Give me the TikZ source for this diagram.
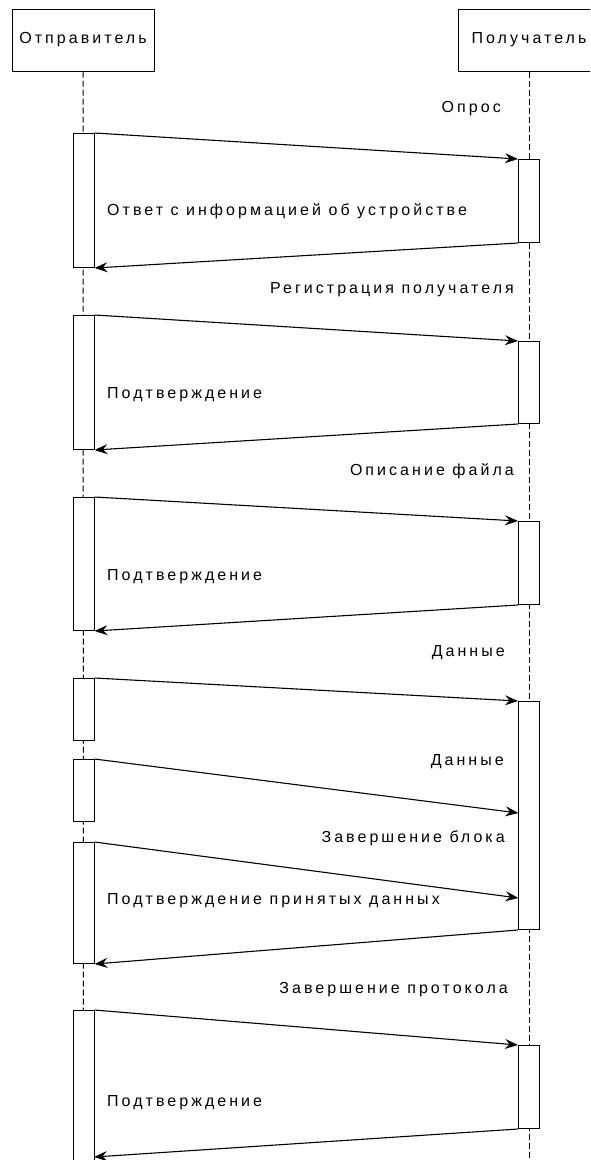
\documentclass[tikz,border=0pt]{standalone}
\usepackage{fontspec}
\setmainfont{Liberation Sans}[LetterSpace=19]
\usetikzlibrary{arrows.meta}

\begin{document}
\begin{tikzpicture}[x=1pt, y=-1pt,
  txt/.style={font=\fontsize{16}{18}\selectfont},
  head/.style={draw, line width=1pt, fill=white, minimum width=142pt, minimum height=62pt, inner sep=0pt, txt},
  act/.style={draw, line width=1pt, fill=white, minimum width=21pt, inner sep=0pt, anchor=north},
  life/.style={line width=1pt, dash pattern=on 6pt off 3pt},
  msg/.style={line width=1.1pt, -{Stealth[length=13pt, width=10pt, inset=4.5pt]}},
  lbl/.style={inner sep=0pt, txt}]

\useasboundingbox (0,0) rectangle (590,1160);
\clip (0,0) rectangle (590,1160);

% participants
\node[head] (snd) at (83,40) {Отправитель};
\node[head] (rcv) at (529,40) {Получатель};
\coordinate (sndEnd) at (83.5,1170);
\coordinate (rcvEnd) at (529,1170);
\draw[life] (snd.south) -- (sndEnd);
\draw[life] (rcv.south) -- (rcvEnd);

% activation bars of the sender
\node[act, minimum height=134pt] (s1) at (83.5,133) {};
\node[act, minimum height=134pt] (s2) at (83.5,315) {};
\node[act, minimum height=133pt] (s3) at (83.5,497) {};
\node[act, minimum height=62pt]  (s4a) at (83.5,678) {};
\node[act, minimum height=62pt]  (s4b) at (83.5,759) {};
\node[act, minimum height=121pt] (s4c) at (83.5,842) {};
\node[act, minimum height=170pt] (s5) at (83.5,1010) {};

% activation bars of the receiver
\node[act, minimum height=83pt]  (r1) at (529,159) {};
\node[act, minimum height=82pt]  (r2) at (529,341) {};
\node[act, minimum height=83pt]  (r3) at (529,521) {};
\node[act, minimum height=228pt] (r4) at (529,701) {};
\node[act, minimum height=83pt]  (r5) at (529,1045) {};

% 1: poll
\draw[msg] (s1.north east) -- (r1.north west);
\draw[msg] (r1.south west) -- (s1.south east);
\node[lbl, anchor=east] (l1a) at (501,109) {Опрос};
\node[lbl, anchor=west] (l1b) at (107,211) {Ответ с информацией об устройстве};

% 2: registration
\draw[msg] (s2.north east) -- (r2.north west);
\draw[msg] (r2.south west) -- (s2.south east);
\node[lbl, anchor=east] (l2a) at (514,290) {Регистрация получателя};
\node[lbl, anchor=west] (l2b) at (107,395) {Подтверждение};

% 3: file description
\draw[msg] (s3.north east) -- (r3.north west);
\draw[msg] (r3.south west) -- (s3.south east);
\node[lbl, anchor=east] (l3a) at (514,471) {Описание файла};
\node[lbl, anchor=west] (l3b) at (107,577) {Подтверждение};

% 4: data transfer
\coordinate (d2) at (518.5,813);
\coordinate (d3) at (518.5,898);
\draw[msg] (s4a.north east) -- (r4.north west);
\draw[msg] (s4b.north east) -- (d2);
\draw[msg] (s4c.north east) -- (d3);
\draw[msg] (r4.south west) -- (s4c.south east);
\node[lbl, anchor=east] (l4a) at (505,653) {Данные};
\node[lbl, anchor=east] (l4b) at (504,762) {Данные};
\node[lbl, anchor=east] (l4c) at (505,838) {Завершение блока};
\node[lbl, anchor=west] (l4d) at (107,901) {Подтверждение принятых данных};

% 5: end of protocol
\coordinate (e5) at (94,1157);
\draw[msg] (s5.north east) -- (r5.north west);
\draw[msg] (r5.south west) -- (e5);
\node[lbl, anchor=east] (l5a) at (508,990) {Завершение протокола};
\node[lbl, anchor=west] (l5b) at (107,1103) {Подтверждение};
\end{tikzpicture}
\end{document}
